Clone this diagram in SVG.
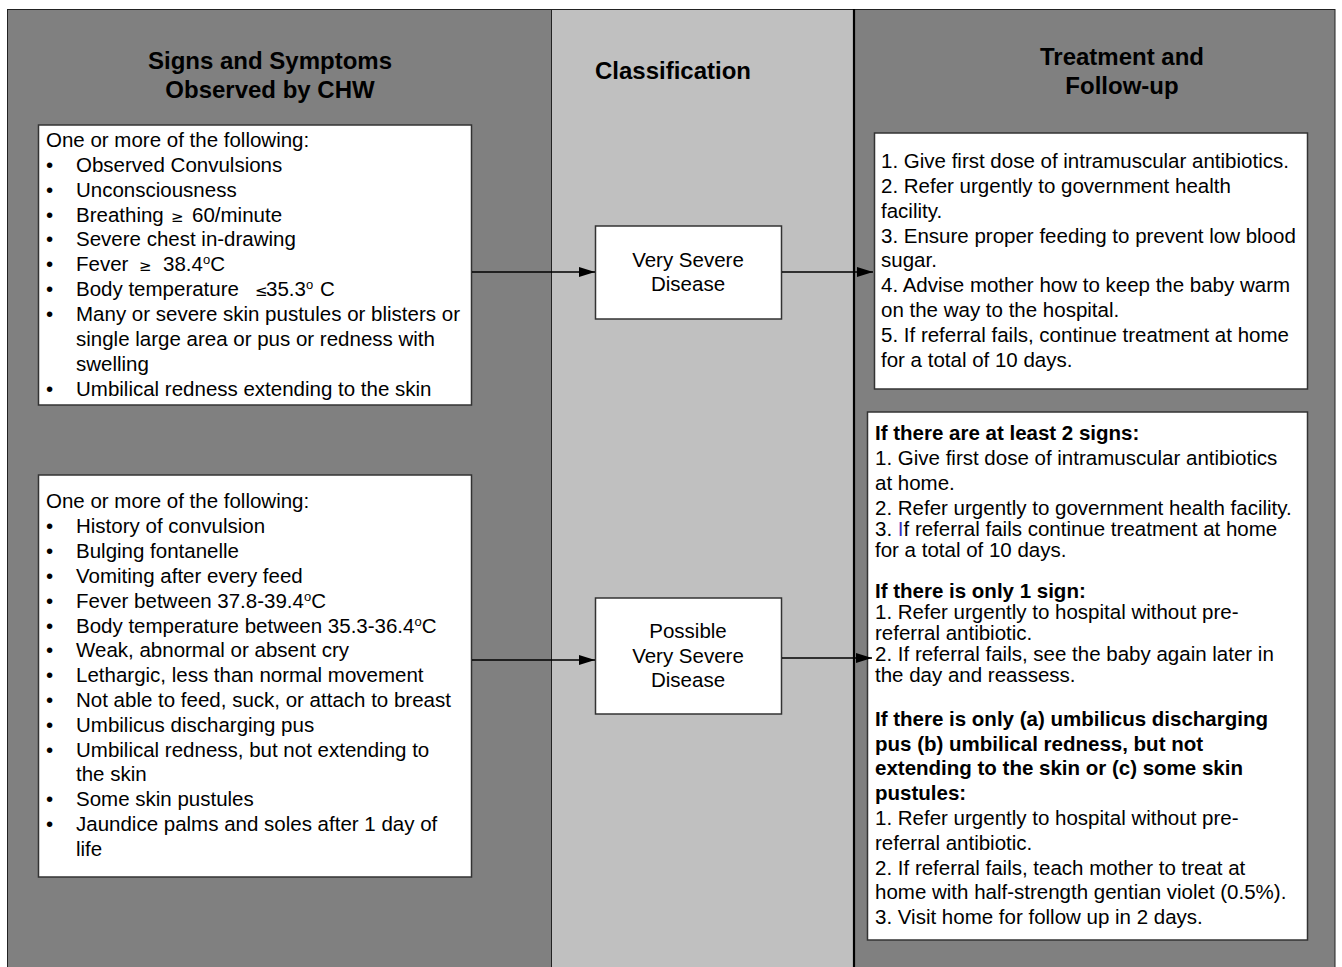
<svg xmlns="http://www.w3.org/2000/svg" width="1342" height="967" viewBox="0 0 1342 967">
<style>
text{font-family:"Liberation Sans",Arial,sans-serif;fill:#000}
.h{font-size:24px;font-weight:bold;text-anchor:middle}
.t{font-size:20.5px}
.b{font-size:20.5px;font-weight:bold}
.c{font-size:20.5px;text-anchor:middle}
.sym{font-family:"DejaVu Sans",sans-serif;font-size:15px}
.box{fill:#fff;stroke:#333;stroke-width:1.5}
.conn{stroke:#000;stroke-width:1.3;fill:none;marker-end:url(#ah)}
</style>
<defs>
<marker id="ah" viewBox="0 0 16 10" refX="16" refY="5" markerWidth="16" markerHeight="10" markerUnits="userSpaceOnUse" orient="auto">
<path d="M0,0 L16,5 L0,10 z" fill="#000"/>
</marker>
</defs>
<rect x="0" y="0" width="1342" height="967" fill="#fff"/>
<g id="columns">
<rect x="7.5" y="9.5" width="544" height="970" fill="#808080" stroke="#222" stroke-width="1"/>
<rect x="551.5" y="9.5" width="302" height="970" fill="#c0c0c0" stroke="#222" stroke-width="1"/>
<rect x="854" y="9.5" width="481" height="970" fill="#808080" stroke="#222" stroke-width="1"/>
<line x1="854" y1="9" x2="854" y2="967" stroke="#000" stroke-width="2.2"/>
<text class="h" x="270" y="68.5">Signs and Symptoms</text>
<text class="h" x="270" y="97.5">Observed by CHW</text>
<text class="h" x="673" y="78.5">Classification</text>
<text class="h" x="1122" y="64.5">Treatment and</text>
<text class="h" x="1122" y="93.5">Follow-up</text>
</g>
<g id="sym1">
<rect class="box" x="38.5" y="125" width="433" height="280"/>
<text class="t" x="46" y="147">One or more of the following:</text>
<text class="t" x="46" y="172">•</text><text class="t" x="76" y="172">Observed Convulsions</text>
<text class="t" x="46" y="197">•</text><text class="t" x="76" y="197">Unconsciousness</text>
<text class="t" x="46" y="222">•</text><text class="t" x="76" y="222">Breathing</text><text class="sym" x="171" y="222">≥</text><text class="t" x="192" y="222">60/minute</text>
<text class="t" x="46" y="246">•</text><text class="t" x="76" y="246">Severe chest in-drawing</text>
<text class="t" x="46" y="271">•</text><text class="t" x="76" y="271">Fever</text><text class="sym" x="139" y="271">≥</text><text class="t" x="163" y="271">38.4<tspan font-size="13" dy="-7">o</tspan><tspan dy="7">C</tspan></text>
<text class="t" x="46" y="296">•</text><text class="t" x="76" y="296">Body temperature</text><text class="sym" x="255" y="296">≤</text><text class="t" x="266" y="296">35.3<tspan font-size="13" dy="-7">o</tspan><tspan x="320" dy="7">C</tspan></text>
<text class="t" x="46" y="321">•</text><text class="t" x="76" y="321">Many or severe skin pustules or blisters or</text>
<text class="t" x="76" y="346">single large area or pus or redness with</text>
<text class="t" x="76" y="371">swelling</text>
<text class="t" x="46" y="396">•</text><text class="t" x="76" y="396">Umbilical redness extending to the skin</text>
</g>
<g id="sym2">
<rect class="box" x="38.5" y="475" width="433" height="402"/>
<text class="t" x="46" y="508">One or more of the following:</text>
<text class="t" x="46" y="533">•</text><text class="t" x="76" y="533">History of convulsion</text>
<text class="t" x="46" y="558">•</text><text class="t" x="76" y="558">Bulging fontanelle</text>
<text class="t" x="46" y="583">•</text><text class="t" x="76" y="583">Vomiting after every feed</text>
<text class="t" x="46" y="608">•</text><text class="t" x="76" y="608">Fever between 37.8-39.4<tspan font-size="13" dy="-7">o</tspan><tspan dy="7">C</tspan></text>
<text class="t" x="46" y="633">•</text><text class="t" x="76" y="633">Body temperature between 35.3-36.4<tspan font-size="13" dy="-7">o</tspan><tspan dy="7">C</tspan></text>
<text class="t" x="46" y="657">•</text><text class="t" x="76" y="657">Weak, abnormal or absent cry</text>
<text class="t" x="46" y="682">•</text><text class="t" x="76" y="682">Lethargic, less than normal movement</text>
<text class="t" x="46" y="707">•</text><text class="t" x="76" y="707">Not able to feed, suck, or attach to breast</text>
<text class="t" x="46" y="732">•</text><text class="t" x="76" y="732">Umbilicus discharging pus</text>
<text class="t" x="46" y="757">•</text><text class="t" x="76" y="757">Umbilical redness, but not extending to</text>
<text class="t" x="76" y="781">the skin</text>
<text class="t" x="46" y="806">•</text><text class="t" x="76" y="806">Some skin pustules</text>
<text class="t" x="46" y="831">•</text><text class="t" x="76" y="831">Jaundice palms and soles after 1 day of</text>
<text class="t" x="76" y="856">life</text>
</g>
<g id="cls1">
<rect class="box" x="595.5" y="226" width="186" height="93"/>
<text class="c" x="688" y="267">Very Severe</text>
<text class="c" x="688" y="291">Disease</text>
</g>
<g id="cls2">
<rect class="box" x="595.5" y="598" width="186" height="116"/>
<text class="c" x="688" y="638">Possible</text>
<text class="c" x="688" y="663">Very Severe</text>
<text class="c" x="688" y="687">Disease</text>
</g>
<g id="tx1">
<rect class="box" x="874.5" y="133" width="433" height="256"/>
<text class="t" x="881" y="168">1. Give first dose of intramuscular antibiotics.</text>
<text class="t" x="881" y="193">2. Refer urgently to government health</text>
<text class="t" x="881" y="218">facility.</text>
<text class="t" x="881" y="243">3. Ensure proper feeding to prevent low blood</text>
<text class="t" x="881" y="267">sugar.</text>
<text class="t" x="881" y="292">4. Advise mother how to keep the baby warm</text>
<text class="t" x="881" y="317">on the way to the hospital.</text>
<text class="t" x="881" y="342">5. If referral fails, continue treatment at home</text>
<text class="t" x="881" y="367">for a total of 10 days.</text>
</g>
<g id="tx2">
<rect class="box" x="867.5" y="412" width="440" height="528"/>
<text class="b" x="875" y="440">If there are at least 2 signs:</text>
<text class="t" x="875" y="465">1. Give first dose of intramuscular antibiotics</text>
<text class="t" x="875" y="490">at home.</text>
<text class="t" x="875" y="515">2. Refer urgently to government health facility.</text>
<text class="t" x="875" y="536">3. <tspan fill="#3a2fc0">I</tspan>f referral fails continue treatment at home</text>
<text class="t" x="875" y="557">for a total of 10 days.</text>
<text class="b" x="875" y="598">If there is only 1 sign:</text>
<text class="t" x="875" y="619">1. Refer urgently to hospital without pre-</text>
<text class="t" x="875" y="640">referral antibiotic.</text>
<text class="t" x="875" y="661">2. If referral fails, see the baby again later in</text>
<text class="t" x="875" y="682">the day and reassess.</text>
<text class="b" x="875" y="726">If there is only (a) umbilicus discharging</text>
<text class="b" x="875" y="751">pus (b) umbilical redness, but not</text>
<text class="b" x="875" y="775">extending to the skin or (c) some skin</text>
<text class="b" x="875" y="800">pustules:</text>
<text class="t" x="875" y="825">1.  Refer urgently to hospital without pre-</text>
<text class="t" x="875" y="850">referral antibiotic.</text>
<text class="t" x="875" y="875">2. If referral fails, teach mother to treat at</text>
<text class="t" x="875" y="899">home with half-strength gentian violet (0.5%).</text>
<text class="t" x="875" y="924">3. Visit home for follow up in 2 days.</text>
</g>
<g id="connectors">
<line class="conn" x1="472" y1="272" x2="595" y2="272"/>
<line class="conn" x1="782" y1="272" x2="873" y2="272"/>
<line class="conn" x1="472" y1="660" x2="595" y2="660"/>
<line class="conn" x1="782" y1="658" x2="872" y2="658"/>
</g>
</svg>
